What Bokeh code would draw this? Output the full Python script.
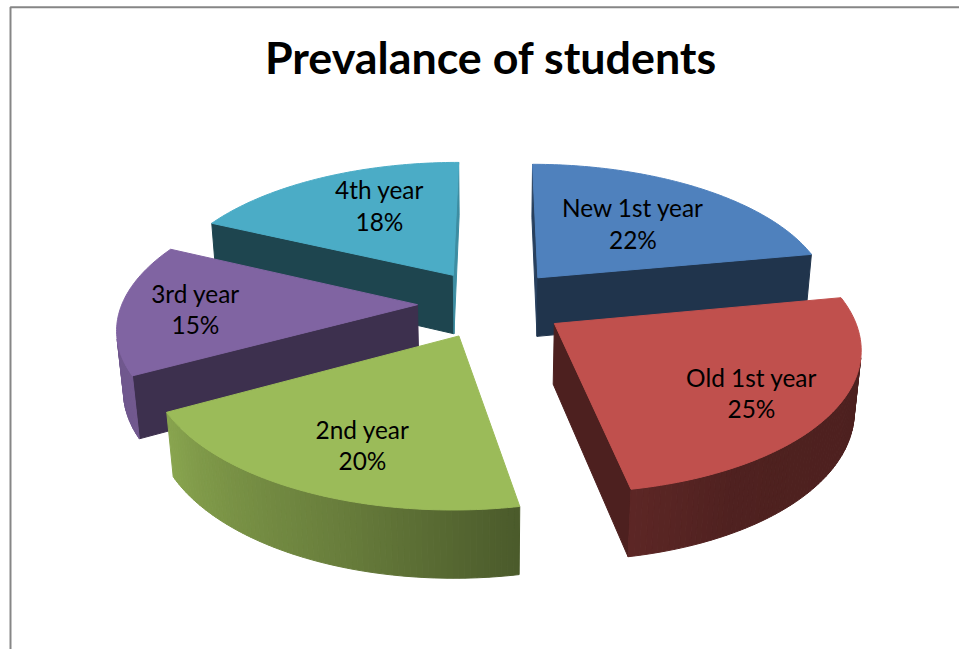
import numpy as np
from bokeh.core.properties import value
from bokeh.embed import file_html
from bokeh.models import ColumnDataSource
from bokeh.plotting import figure
from bokeh.resources import INLINE

TITLE = "Prevalance of students"
CATEGORIES = ["New 1st year", "Old 1st year", "2nd year", "3rd year", "4th year"]
SHARES = [22, 25, 20, 15, 18]
COLORS = ["#4F81BD", "#C0504D", "#9BBB59", "#8064A2", "#4BACC6"]

# Shading of the two radial cut faces of each slice
CUT_SHADE = [(0.50, 0.40), (0.40, 0.40), (0.50, 0.50), (0.48, 0.48), (0.40, 0.82)]
# Shading of the outer rim, by clockwise angle from twelve o'clock
RIM_ANGLES = [0, 100, 150, 169, 200, 241, 295, 360]
RIM_SHADE = [0.40, 0.40, 0.41, 0.48, 0.68, 0.88, 0.86, 0.60]

# Label centres in page pixels: (x, first line y, second line y)
LABEL_POS = [(632.5, 207, 239), (751, 377, 408), (362, 429, 460), (195, 293, 324), (379, 189, 221)]
# Back-to-front paint order of the slices
PAINT_ORDER = [4, 0, 3, 2, 1]

# Camera and solid: centre, focal length, distance, elevation, thickness, explosion, rotation
CX, CY, FOCAL, DIST, ELEV, THICK, EXPLODE, ROT = 491.23, 303.15, 1759.36, 5.957, 0.4842, 0.2327, 0.2513, 0.12
CAMERA = np.array([0.0, -DIST * np.cos(ELEV), DIST * np.sin(ELEV)])


def project(x, y, z):
    yc = y * np.sin(ELEV) + z * np.cos(ELEV)
    zc = DIST + y * np.cos(ELEV) - z * np.sin(ELEV)
    return CX + FOCAL * x / zc, CY - FOCAL * yc / zc


def shade(hex_color, factor):
    rgb = [int(hex_color[i:i + 2], 16) for i in (1, 3, 5)]
    return "#" + "".join(f"{int(round(c * factor)):02x}" for c in rgb)


def faces_camera(px, py, nx, ny):
    return (CAMERA[0] - px) * nx + (CAMERA[1] - py) * ny > 0


edges = np.cumsum([0] + SHARES) * 360.0 / sum(SHARES)
xs, ys, fills = [], [], []


def add_wall(x0, y0, x1, y1, color):
    wx = np.array([x0, x1, x1, x0])
    wy = np.array([y0, y1, y1, y0])
    sx, sy = project(wx, wy, np.array([0, 0, -THICK, -THICK]))
    xs.append(list(np.round(sx, 2)))
    ys.append(list(np.round(sy, 2)))
    fills.append(color)


for i in PAINT_ORDER:
    a0, a1 = edges[i], edges[i + 1]
    mid = np.radians((a0 + a1) / 2 + ROT)
    ox, oy = EXPLODE * np.sin(mid), EXPLODE * np.cos(mid)
    deg = np.linspace(a0, a1, int(a1 - a0) + 2)
    t = np.radians(deg + ROT)
    rx, ry = np.sin(t) + ox, np.cos(t) + oy

    # Radial cut faces that look towards the camera
    if faces_camera(ox, oy, -np.cos(t[0]), np.sin(t[0])):
        add_wall(ox, oy, rx[0], ry[0], shade(COLORS[i], CUT_SHADE[i][0]))
    if faces_camera(ox, oy, np.cos(t[-1]), -np.sin(t[-1])):
        add_wall(ox, oy, rx[-1], ry[-1], shade(COLORS[i], CUT_SHADE[i][1]))

    # Rim strips that look towards the camera
    for k in range(len(deg) - 1):
        tm = (t[k] + t[k + 1]) / 2
        if faces_camera(np.sin(tm) + ox, np.cos(tm) + oy, np.sin(tm), np.cos(tm)):
            factor = np.interp((deg[k] + deg[k + 1]) / 2, RIM_ANGLES, RIM_SHADE)
            add_wall(rx[k], ry[k], rx[k + 1], ry[k + 1], shade(COLORS[i], factor))

    # Top surface
    sx, sy = project(np.r_[ox, rx], np.r_[oy, ry], np.zeros(len(rx) + 1))
    xs.append(list(np.round(sx, 2)))
    ys.append(list(np.round(sy, 2)))
    fills.append(COLORS[i])

p = figure(width=959, height=649, x_range=(0, 959), y_range=(649, 0),
           output_backend="svg", toolbar_location=None, min_border=0,
           outline_line_color=None, background_fill_color="white")
p.axis.visible = False
p.grid.visible = False

# Chart frame: only the top and left sides fall inside the page
p.line([959, 10, 10], [6.8, 6.8, 649], line_color="#868686", line_width=2)

faces = ColumnDataSource(dict(xs=xs, ys=ys, fill=fills))
p.patches("xs", "ys", source=faces, fill_color="fill", line_color="fill", line_width=1.0)

labels = ColumnDataSource(dict(
    x=[pos[0] for pos in LABEL_POS] * 2,
    y=[pos[1] for pos in LABEL_POS] + [pos[2] for pos in LABEL_POS],
    text=CATEGORIES + [f"{s}%" for s in SHARES],
))
p.text("x", "y", text="text", source=labels, text_font=value("Lato"), text_font_size="24.4px",
       text_color="#000000", text_align="center", text_baseline="middle")

p.text([490.5], [56.5], text=[TITLE], text_font=value("Lato"), text_font_size="44.8px",
       text_font_style="bold", text_color="#000000", text_align="center", text_baseline="middle")

open("out.html", "w").write(file_html(p, INLINE))
